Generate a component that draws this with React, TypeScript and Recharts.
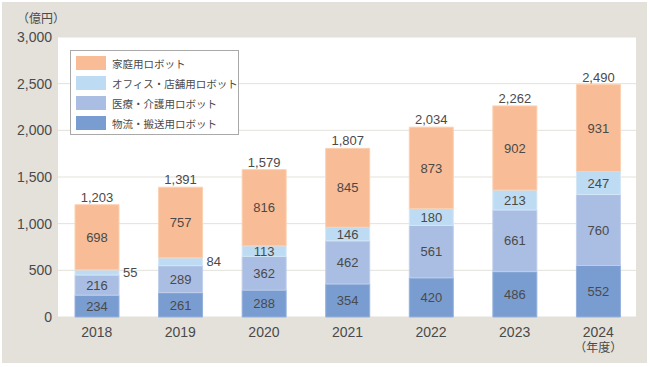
import React from 'react';
import { BarChart, Bar, XAxis, YAxis, CartesianGrid, Legend, LabelList } from 'recharts';

const years = ['2018', '2019', '2020', '2021', '2022', '2023', '2024'];
const logistics = [234, 261, 288, 354, 420, 486, 552];
const medical = [216, 289, 362, 462, 561, 661, 760];
const office = [55, 84, 113, 146, 180, 213, 247];
const home = [698, 757, 816, 845, 873, 902, 931];
const totals = [1203, 1391, 1579, 1807, 2034, 2262, 2490];
const yTicks = [0, 500, 1000, 1500, 2000, 2500, 3000];

const series = [
  { key: 'home', name: '家庭用ロボット', fill: '#f8bd96', stroke: '#fbd0b2' },
  { key: 'office', name: 'オフィス・店舗用ロボット', fill: '#bddbf2', stroke: '#d3e7f7' },
  { key: 'medical', name: '医療・介護用ロボット', fill: '#aabde2', stroke: '#c0cfeb' },
  { key: 'logistics', name: '物流・搬送用ロボット', fill: '#7a9dd1', stroke: '#94b1dc' },
];

const data = years.map((y, i) => ({
  year: y,
  logistics: logistics[i],
  medical: medical[i],
  office: office[i],
  home: home[i],
  total: totals[i],
}));

const FONT = "'Liberation Sans', 'Noto Sans CJK JP', sans-serif";
const TXT = '#4a4a4a';

const fmt = (v: number) => v.toLocaleString('en-US');

// segment label, the thin ones go to the right of the bar
const segLabel = (props: any) => {
  const { x, y, width, height, value } = props;
  const outside = height < 9;
  return (
    <text
      x={outside ? x + width + 4 : x + width / 2}
      y={y + height / 2}
      dy="0.36em"
      textAnchor={outside ? 'start' : 'middle'}
      fontSize={13}
      fill={TXT}
      fontFamily={FONT}
    >
      {value}
    </text>
  );
};

const YearTick = (props: any) => {
  const { x, y, payload } = props;
  return (
    <g>
      <text x={x} y={y + 10} textAnchor="middle" fontSize={14} fill={TXT} fontFamily={FONT}>
        {payload.value}
      </text>
      {payload.value === '2024' && (
        <text x={x} y={y + 25} textAnchor="middle" fontSize={12} fill={TXT} fontFamily={FONT}>
          （年度）
        </text>
      )}
    </g>
  );
};

const LegendBox = () => (
  <div
    style={{
      width: 169,
      height: 85,
      boxSizing: 'border-box',
      background: '#fff',
      border: '1px solid #a9a9a9',
      padding: '5px 0 0 5px',
      fontFamily: FONT,
    }}
  >
    {series.map((s) => (
      <div key={s.key} style={{ display: 'flex', alignItems: 'center', height: 14, marginBottom: 6 }}>
        <span style={{ width: 30, height: 14, background: s.fill, display: 'inline-block' }} />
        <span style={{ marginLeft: 6, fontSize: 10.5, color: TXT, whiteSpace: 'nowrap' }}>{s.name}</span>
      </div>
    ))}
  </div>
);

export default function App() {
  const stack = [...series].reverse();
  return (
    <div style={{ position: 'absolute', left: 0, top: 0, width: 650, height: 367, background: '#fff' }}>
      <div style={{ position: 'absolute', left: 2, top: 2, width: 645, height: 361, background: '#e4e1da' }} />
      {/* white plot panel */}
      <div style={{ position: 'absolute', left: 58, top: 37, width: 578, height: 280, background: '#fff' }} />
      <div
        style={{
          position: 'absolute',
          left: 17,
          top: 9,
          fontSize: 12,
          color: TXT,
          fontFamily: FONT,
        }}
      >
        （億円）
      </div>
      <div style={{ position: 'absolute', left: 0, top: 0 }}>
        <BarChart width={650} height={367} data={data} margin={{ top: 37, right: 10, left: 5, bottom: 20 }}>
          <CartesianGrid vertical={false} stroke="#e4e1da" />
          <XAxis
            dataKey="year"
            axisLine={false}
            tickLine={false}
            tickSize={0}
            tickMargin={10}
            height={30}
            tick={<YearTick />}
            interval={0}
          />
          <YAxis
            domain={[0, 3000]}
            ticks={yTicks}
            width={50}
            axisLine={false}
            tickLine={false}
            tickSize={0}
            tickMargin={3}
            tickFormatter={fmt}
            tick={{ fontSize: 14, fill: TXT, fontFamily: FONT }}
          />
          <Legend
            verticalAlign="middle"
            content={<LegendBox />}
            wrapperStyle={{ left: 70, top: 50, width: 169, height: 85 }}
          />
          {stack.map((s) => (
            <Bar
              key={s.key}
              dataKey={s.key}
              name={s.name}
              stackId="a"
              fill={s.fill}
              stroke={s.stroke}
              strokeWidth={1}
              barSize={44}
              isAnimationActive={false}
            >
              <LabelList dataKey={s.key} content={segLabel} />
              {s.key === 'home' && (
                <LabelList
                  dataKey="total"
                  position="top"
                  offset={3}
                  formatter={(v: any) => fmt(v)}
                  style={{ fontSize: 13, fill: TXT, fontFamily: FONT }}
                />
              )}
            </Bar>
          ))}
        </BarChart>
      </div>
    </div>
  );
}
